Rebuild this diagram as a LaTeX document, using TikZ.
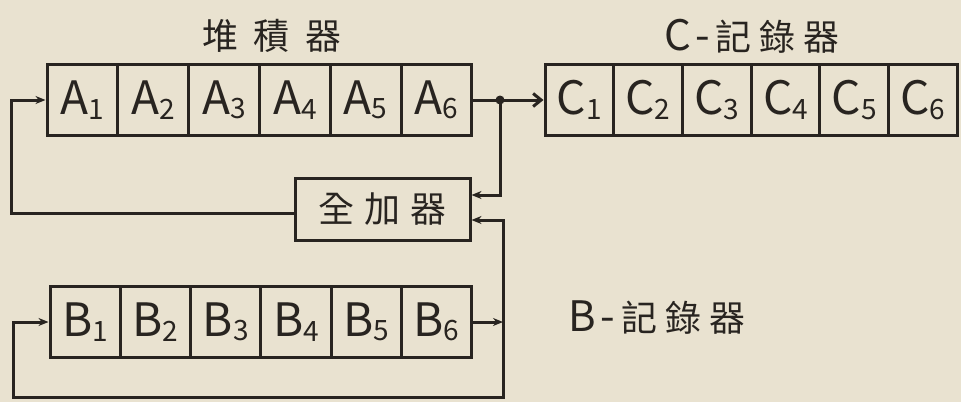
\documentclass[tikz,border=0pt]{standalone}
\usepackage{fontspec}
\setmainfont{Noto Sans CJK TC}
\usetikzlibrary{arrows.meta,calc}
\definecolor{paper}{RGB}{233,226,208}
\definecolor{ink}{RGB}{40,36,32}
\newcommand\celltxt[2]{#1\raisebox{-0.1em}{\fontsize{28}{28}\selectfont #2}}
\begin{document}
\begin{tikzpicture}[x=1pt,y=-1pt,
  cell/.style={draw=ink, line width=3pt, minimum width=#1, minimum height=71pt, inner sep=0pt,
    font=\fontsize{46}{46}\selectfont, text=ink},
  wire/.style={draw=ink, line width=3pt},
  arr/.style={wire, -{Stealth[length=10pt,width=8pt]}},
  barb/.style={wire, -{Straight Barb[length=8pt,width=13pt,line width=3pt]}},
  title/.style={font=\fontsize{36}{36}\selectfont, text=ink, inner sep=0pt}]
\fill[paper] (0,0) rectangle (961,402);
\useasboundingbox (0,0) rectangle (961,402);
% A register
\foreach \i in {1,...,6} {
  \node[cell=70.8pt] (a\i) at ({47+70.8*(\i-0.5)},100) {\celltxt{A}{\i}};
}
% C register
\foreach \i in {1,...,6} {
  \node[cell=68.7pt] (c\i) at ({545+68.7*(\i-0.5)},100) {\celltxt{C}{\i}};
}
% B register
\foreach \i in {1,...,6} {
  \node[cell=70.3pt] (b\i) at ({50+70.3*(\i-0.5)},322) {\celltxt{B}{\i}};
}
% adder
\node[draw=ink, line width=3pt, minimum width=175pt, minimum height=62pt, inner sep=0pt,
  font=\fontsize{36}{36}\selectfont, text=ink] (add) at (382.5,209) {全\hspace{10pt}加\hspace{10pt}器};
% titles
\node[title] (tA) at (272,36) {堆\hspace{16pt}積\hspace{16pt}器};
\node[title] (tC) at (752,36) {\fontsize{42}{42}\selectfont C\hspace{4pt}-\hspace{6pt}\fontsize{36}{36}\selectfont 記\hspace{8pt}錄\hspace{8pt}器};
\node[title] (tB) at (657,318) {\fontsize{42}{42}\selectfont B\hspace{4pt}-\hspace{6pt}\fontsize{36}{36}\selectfont 記\hspace{8pt}錄\hspace{8pt}器};
% junctions and corners
\coordinate (j1) at (500,100);
\coordinate (j2) at (503,322);
\coordinate (la) at (11,213);
\coordinate (lb) at (13,397);
% connectors
\draw[barb] (a6.east) -- (c1.west);
\fill[ink] (j1) circle (4.5pt);
\draw[arr] (j1) |- ($(add.east)+(0,-14)$);
\draw[arr] ($(add.west)+(0,4)$) -- (la) |- (a1.west);
\draw[arr] (b6.east) -- (j2);
\draw[arr] (j2) |- ($(add.east)+(0,11)$);
\draw[arr] (j2) |- (lb) |- (b1.west);
\end{tikzpicture}
\end{document}
